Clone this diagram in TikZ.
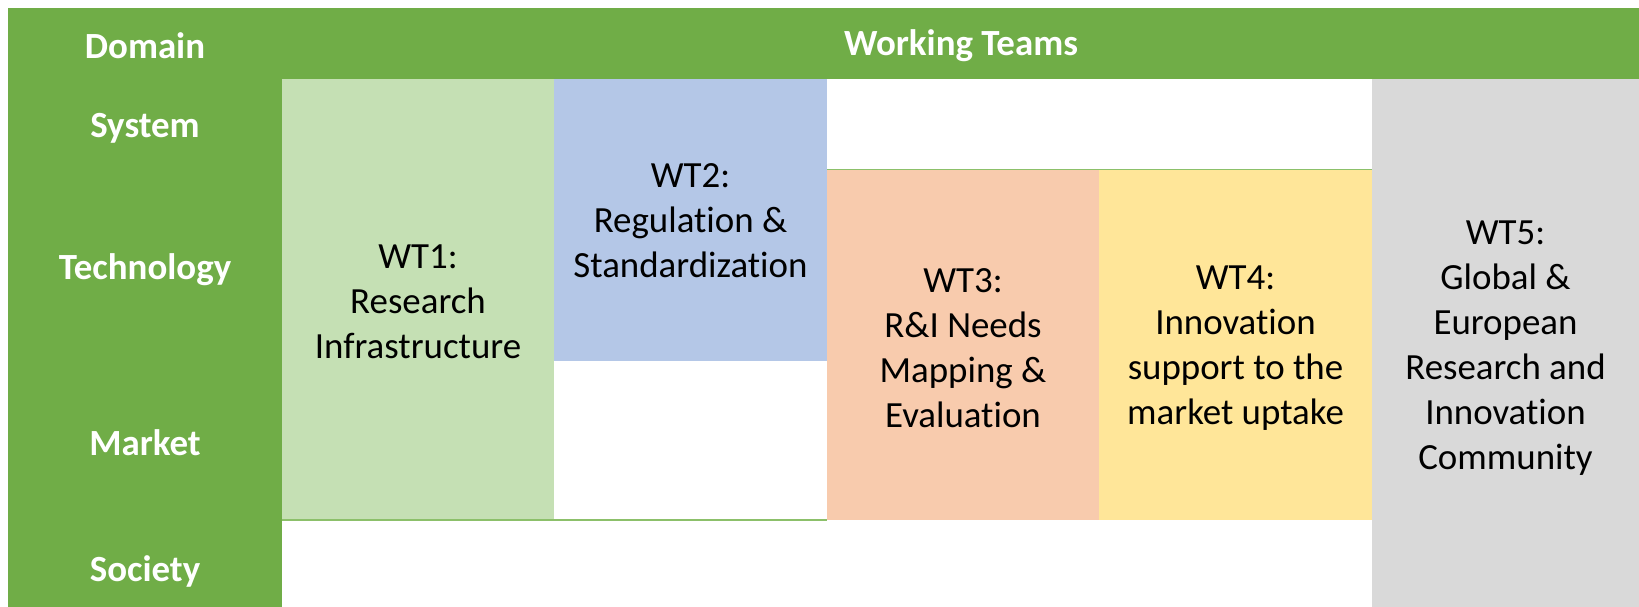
\documentclass[tikz,border=0pt]{standalone}
\usepackage{fontspec}
\setmainfont{Carlito}[Ligatures={NoCommon,NoRare,NoContextual}]
\newcommand\nolig{\kern0pt }
\definecolor{hdr}{HTML}{70AD47}
\definecolor{wtone}{HTML}{C5E0B4}
\definecolor{wttwo}{HTML}{B4C7E7}
\definecolor{wtthree}{HTML}{F8CBAD}
\definecolor{wtfour}{HTML}{FFE699}
\definecolor{wtfive}{HTML}{D9D9D9}
\definecolor{rule}{HTML}{8CC06A}
\begin{document}
\begin{tikzpicture}[x=0.02cm,y=-0.02cm,
  lbl/.style={font=\fontsize{21}{25.6}\selectfont\bfseries, text=white, inner sep=0pt, align=center},
  wt/.style={font=\fontsize{21}{25.6}\selectfont, text=black, inner sep=0pt, align=center},
  sep/.style={draw=rule, line width=0.03cm}]
\useasboundingbox (0,0) rectangle (1639,607);
\fill[white] (0,0) rectangle (1639,607);
% green header and domain column
\fill[hdr] (8,8) rectangle (1639,79.5);
\fill[hdr] (8,8) rectangle (282,607);
% working team cells
\fill[wtone] (282,79.5) rectangle (554,520);
\fill[wttwo] (554,79.5) rectangle (827,361);
\fill[wtthree] (827,169.5) rectangle (1099,520);
\fill[wtfour] (1099,169.5) rectangle (1372,520);
\fill[wtfive] (1372,79.5) rectangle (1639,607);
% thin separators
\draw[sep] (827,169.5) -- (1372,169.5);
\draw[sep] (282,520) -- (827,520);
% header labels
\node[lbl] (domain) at (145,46) {Domain};
\node[lbl] (teams) at (961,46) {Working Teams};
\node[lbl] (system) at (145,128) {System};
\node[lbl] (tech) at (145,269.5) {Technology};
\node[lbl] (market) at (145,442.5) {Market};
\node[lbl] (society) at (145,571.5) {Society};
% team labels
\node[wt] (wt1) at (418,301.5) {WT1:\\Research\\Infrastructure};
\node[wt] (wt2) at (690.5,220.5) {WT2:\\Regulat\nolig ion \&\\Standardizat\nolig ion};
\node[wt] (wt3) at (963,348.5) {WT3:\\R\&I Needs\\Mapping \&\\Evaluat\nolig ion};
\node[wt] (wt4) at (1235.5,348.5) {WT4:\\Innovat\nolig ion\\support to the\\market uptake};
\node[wt] (wt5) at (1505.5,348.5) {WT5:\\Global \&\\European\\Research and\\Innovat\nolig ion\\Community};
\end{tikzpicture}
\end{document}
